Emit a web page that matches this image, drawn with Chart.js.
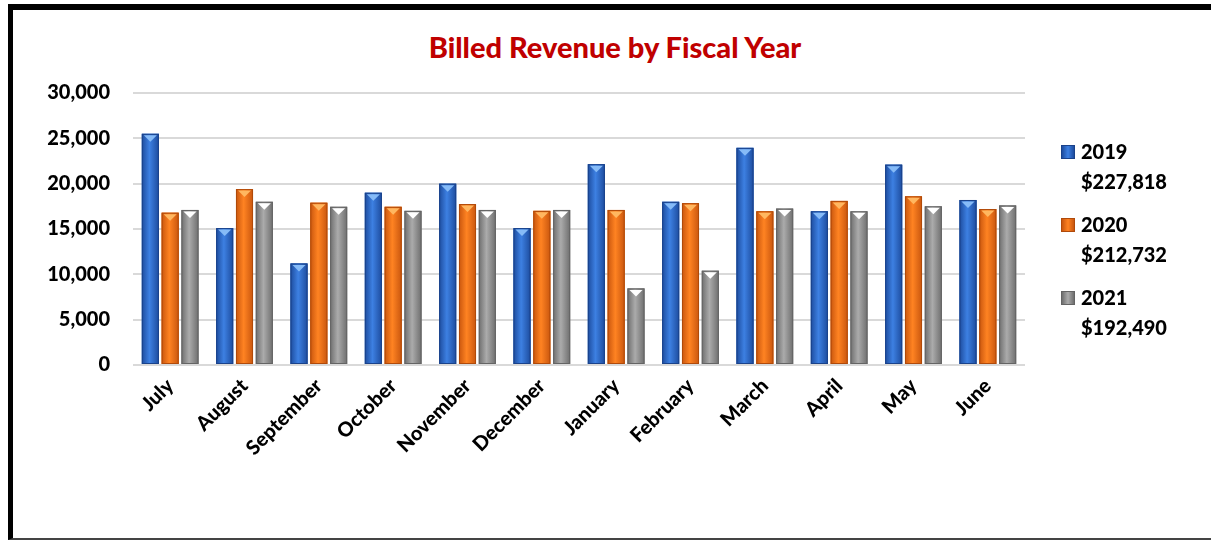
<!DOCTYPE html>
<html>
<head>
<meta charset="utf-8">
<script src="https://cdn.jsdelivr.net/npm/chart.js@4"></script>
<style>
  html, body { margin: 0; padding: 0; background: #fff; }
  #wrap { position: relative; width: 1211px; height: 542px; overflow: hidden; }
  #frame {
    position: absolute; left: 8px; top: 4px; width: 1210px; height: 536px;
    border-top: 6px solid #000; border-left: 5px solid #000; border-bottom: 2px solid #444;
    box-sizing: border-box;
  }
  #title {
    position: absolute; left: 0; width: 1230px; top: 29px; text-align: center;
    font: 900 29px Lato, sans-serif; color: #C00000;
  }
  #legend { position: absolute; left: 1061px; top: 136px; font: 900 20px Lato, sans-serif; color: #000; }
  .item { position: relative; height: 73px; }
  .box { position: absolute; left: 0; top: 9px; width: 14px; height: 14px; box-sizing: border-box; }
  .txt { position: absolute; left: 20px; top: 0; line-height: 30px; white-space: nowrap; }
  canvas { position: absolute; left: 0; top: 0; }
</style>
</head>
<body>
<div id="wrap">
  <div id="frame"></div>
  <div id="title">Billed Revenue by Fiscal Year</div>
  <canvas id="revenue" width="1211" height="542"></canvas>
  <div id="legend"></div>
</div>
<script>
const months = ['July', 'August', 'September', 'October', 'November', 'December',
                'January', 'February', 'March', 'April', 'May', 'June'];
const years = ['2019', '2020', '2021'];
const totals = ['$227,818', '$212,732', '$192,490'];
const fy2019 = [25500, 15100, 11200, 19000, 20000, 15100, 22150, 18000, 23950, 16950, 22100, 18200];
const fy2020 = [16800, 19400, 17900, 17450, 17750, 17000, 17100, 17850, 16950, 18100, 18600, 17200];
const fy2021 = [17100, 18000, 17450, 17000, 17100, 17100, 8450, 10400, 17250, 16950, 17500, 17600];
const yTicks = [0, 5000, 10000, 15000, 20000, 25000, 30000];

// bar shading per series: edge, mid, tip triangle
const shades = [
  { dark: '#1D4C9E', light: '#3D80E2', edge: '#1A428A', tip: '#86BBF7' },
  { dark: '#C9560E', light: '#FF8322', edge: '#B04A0A', tip: '#FFB760' },
  { dark: '#6E6E6E', light: '#ABABAB', edge: '#646464', tip: '#FFFFFF' }
];

document.addEventListener('DOMContentLoaded', function() {
    const ctx = document.getElementById('revenue').getContext('2d');

    // gradient + bevel tip drawn over each bar, using the bar elements' own geometry
    const bevel = {
        id: 'bevel',
        afterDatasetsDraw(chart) {
            const c = chart.ctx;
            chart.data.datasets.forEach((ds, i) => {
                const sh = shades[i];
                chart.getDatasetMeta(i).data.forEach(bar => {
                    const p = bar.getProps(['x', 'y', 'base', 'width'], true);
                    const l = p.x - p.width / 2, r = p.x + p.width / 2;
                    const g = c.createLinearGradient(l, 0, r, 0);
                    g.addColorStop(0, sh.dark);
                    g.addColorStop(0.45, sh.light);
                    g.addColorStop(1, sh.dark);
                    c.save();
                    c.fillStyle = g;
                    c.fillRect(l, p.y, p.width, p.base - p.y);
                    c.strokeStyle = sh.edge;
                    c.lineWidth = 1;
                    c.strokeRect(l + 0.5, p.y + 0.5, p.width - 1, p.base - p.y - 1);
                    c.beginPath();
                    c.moveTo(l + 2, p.y + 1.5);
                    c.lineTo(r - 2, p.y + 1.5);
                    c.lineTo(p.x, p.y + 8);
                    c.closePath();
                    c.fillStyle = sh.tip;
                    c.fill();
                    c.restore();
                });
            });
        }
    };

    const series = [fy2019, fy2020, fy2021];

    new Chart(ctx, {
        type: 'bar',
        data: {
            labels: months,
            datasets: years.map((y, i) => ({
                label: y,
                data: series[i],
                backgroundColor: shades[i].light,
                borderWidth: 0,
                categoryPercentage: 0.8,
                barPercentage: 0.86
            }))
        },
        options: {
            responsive: false,
            animation: false,
            layout: { padding: { left: 0, right: 186, top: 93, bottom: 0 } },
            plugins: {
                legend: { display: false },
                title: { display: false },
                tooltip: { enabled: false }
            },
            scales: {
                x: {
                    grid: { display: false, drawTicks: false },
                    border: { display: false },
                    afterFit: s => { s.height = 177; },
                    ticks: {
                        autoSkip: false,
                        minRotation: 45,
                        maxRotation: 45,
                        padding: 9,
                        color: '#000',
                        font: { family: 'Lato', weight: '900', size: 20 }
                    }
                },
                y: {
                    min: 0,
                    max: 30000,
                    afterFit: s => { s.width = 133; },
                    afterBuildTicks: s => { s.ticks = yTicks.map(v => ({ value: v })); },
                    grid: { color: '#D9D9D9', lineWidth: 2, drawTicks: false },
                    border: { display: false },
                    ticks: {
                        padding: 23,
                        color: '#000',
                        font: { family: 'Lato', weight: '900', size: 20 },
                        callback: v => v.toLocaleString('en-US')
                    }
                }
            }
        },
        plugins: [bevel]
    });

    // legend: year plus fiscal-year total on two lines
    const legend = document.getElementById('legend');
    years.forEach((y, i) => {
        const sh = shades[i];
        const item = document.createElement('div');
        item.className = 'item';
        item.innerHTML =
            '<div class="box" style="background:linear-gradient(90deg,' + sh.dark + ',' + sh.light + ',' + sh.dark +
            ');border:1px solid ' + sh.edge + '"></div>' +
            '<div class="txt">' + y + '<br>' + totals[i] + '</div>';
        legend.appendChild(item);
    });
});
</script>
</body>
</html>
